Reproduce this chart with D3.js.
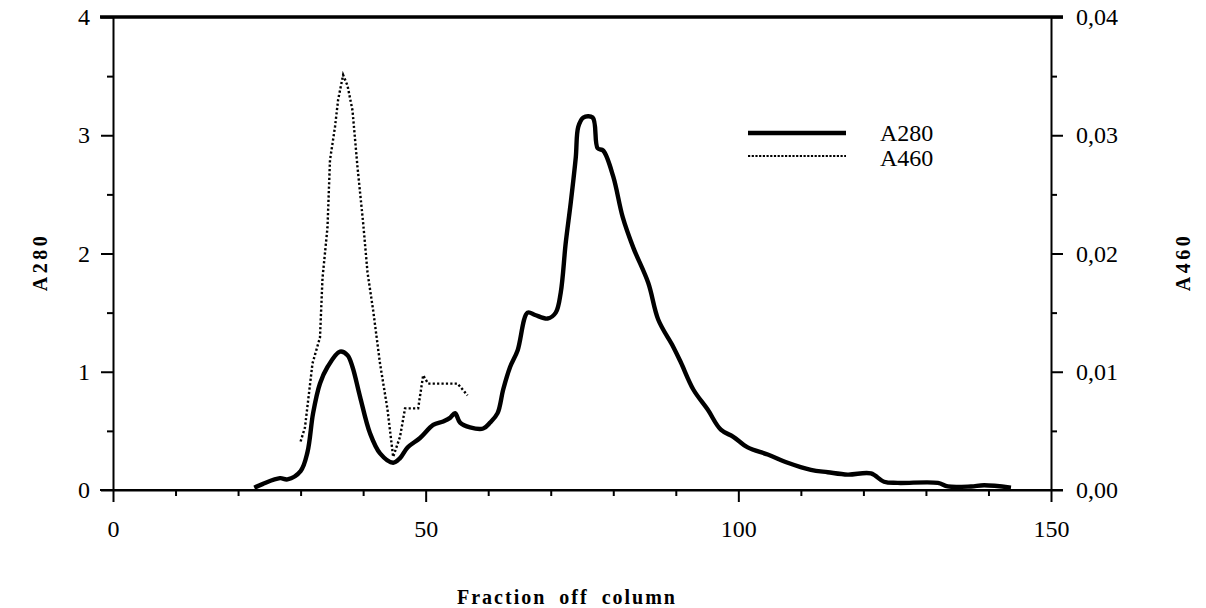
<!DOCTYPE html>
<html><head><meta charset="utf-8">
<script src="https://cdn.jsdelivr.net/npm/d3@7"></script>
<style>
html,body{margin:0;padding:0;background:#fff;}
svg{display:block;}
text{font-family:"Liberation Serif","Times New Roman",serif;fill:#000;}
</style></head>
<body><svg id="c" width="1206" height="608"></svg>
<script>
// A280 trace: [fraction, absorbance]
const a280Fraction = [22.6,23.9,26.7,27.9,30.0,31.1,32.0,33.1,34.3,36.3,37.5,38.3,39.5,41.1,42.7,44.8,45.9,47.1,49.1,51.2,52.8,53.9,54.7,55.5,57.1,59.2,60.3,61.5,62.4,63.5,64.7,66.3,67.5,69.5,70.8,71.6,72.4,73.2,74.0,74.4,75.2,76.7,77.5,78.4,80.0,81.5,83.2,85.6,87.2,89.6,90.8,92.8,95.1,97.2,99.2,101.5,104.7,107.9,111.6,114.3,117.5,121.2,123.3,125.5,131.9,133.5,137.2,139.3,143.6];
const a280Values   = [0.02,0.05,0.10,0.09,0.16,0.32,0.65,0.90,1.04,1.17,1.14,1.04,0.79,0.48,0.31,0.23,0.27,0.36,0.44,0.55,0.58,0.61,0.65,0.57,0.53,0.52,0.57,0.65,0.85,1.04,1.18,1.50,1.48,1.45,1.50,1.67,2.09,2.43,2.81,3.07,3.15,3.15,2.89,2.87,2.65,2.31,2.05,1.75,1.44,1.21,1.08,0.85,0.68,0.51,0.45,0.36,0.30,0.23,0.17,0.15,0.13,0.14,0.07,0.06,0.06,0.03,0.03,0.04,0.02];
// A460 trace
const a460Fraction = [30.0,30.7,31.9,33.1,33.5,34.3,34.7,35.5,36.0,36.8,37.5,38.3,39.1,40.0,40.7,41.6,42.7,43.9,44.8,45.9,46.7,48.8,49.6,50.4,55.1,56.7];
const a460Values   = [0.0041,0.0053,0.0107,0.0129,0.0179,0.0222,0.0279,0.0307,0.0330,0.0351,0.0342,0.0321,0.0273,0.0226,0.0184,0.0152,0.0107,0.0068,0.0028,0.0045,0.0069,0.0069,0.0097,0.0090,0.0090,0.0080];

const xTickLabels = [0,50,100,150];
const yLeftTicks = [0,1,2,3,4];
const yRightTicks = [0,0.01,0.02,0.03,0.04];
const seriesNames = ["A280","A460"];

const svg = d3.select("#c");
const L=113, R=1051, T=17, B=490;
const x = d3.scaleLinear().domain([0,150]).range([L,R]);
const yL = d3.scaleLinear().domain([0,4]).range([B,T]);
const yR = d3.scaleLinear().domain([0,0.04]).range([B,T]);

const fmtR = v => d3.format(".2f")(v).replace(".", ",");

// bottom axis
const gx = svg.append("g").attr("transform",`translate(0,${B})`)
  .call(d3.axisBottom(x).tickValues(d3.range(0,151,10)).tickFormat(d => xTickLabels.includes(d) ? d : "")
    .tickSizeInner(6).tickSizeOuter(0).tickPadding(24));
gx.selectAll(".tick line").attr("y2", d => d%50===0 ? 12 : 6);
// left axis
const gl = svg.append("g").attr("transform",`translate(${L},0)`)
  .call(d3.axisLeft(yL).tickValues(d3.range(0,4.01,0.5)).tickFormat(d => yLeftTicks.includes(d) ? d : "")
    .tickSizeOuter(0).tickPadding(17));
gl.selectAll(".tick line").attr("x2", d => Number.isInteger(d) ? -12 : -6);
// right axis
const gr = svg.append("g").attr("transform",`translate(${R},0)`)
  .call(d3.axisRight(yR).tickValues(d3.range(0,0.0401,0.005)).tickFormat(d => yRightTicks.some(t=>Math.abs(t-d)<1e-9) ? fmtR(d) : "")
    .tickSizeOuter(0).tickPadding(19));
gr.selectAll(".tick line").attr("x2", (d,i) => i%2===0 ? 12 : 6);

[gx,gl,gr].forEach(g=>{
  g.select(".domain").attr("stroke","#000").attr("stroke-width",2);
  g.selectAll(".tick line").attr("stroke","#000").attr("stroke-width",2);
  g.selectAll(".tick text").attr("font-size",24).attr("font-family","Liberation Serif");
});
// extend bottom axis line
svg.append("line").attr("x1",L-13).attr("x2",R+12).attr("y1",B).attr("y2",B).attr("stroke","#000").attr("stroke-width",2);
// top border (thick)
svg.append("line").attr("x1",L-13).attr("x2",R+12).attr("y1",T).attr("y2",T).attr("stroke","#000").attr("stroke-width",3.5);

// lines
const line280 = d3.line().x(d=>x(d[0])).y(d=>yL(d[1])).curve(d3.curveCatmullRom.alpha(0.5));
const line460 = d3.line().x(d=>x(d[0])).y(d=>yR(d[1])).curve(d3.curveLinear);
svg.append("path").datum(d3.zip(a460Fraction,a460Values)).attr("d",line460)
  .attr("fill","none").attr("stroke","#000").attr("stroke-width",2.4).attr("stroke-dasharray","2.2,2.2");
svg.append("path").datum(d3.zip(a280Fraction,a280Values)).attr("d",line280)
  .attr("fill","none").attr("stroke","#000").attr("stroke-width",4.4).attr("stroke-linejoin","round");

// legend
const leg = svg.append("g");
leg.append("line").attr("x1",748).attr("x2",846).attr("y1",133).attr("y2",133).attr("stroke","#000").attr("stroke-width",4.4);
leg.append("line").attr("x1",748).attr("x2",846).attr("y1",156).attr("y2",156).attr("stroke","#000").attr("stroke-width",2.2).attr("stroke-dasharray","2.2,1.5");
leg.append("text").attr("x",880).attr("y",133).attr("dy","0.35em").attr("font-size",24).text(seriesNames[0]);
leg.append("text").attr("x",880).attr("y",158).attr("dy","0.35em").attr("font-size",24).text(seriesNames[1]);

// titles
svg.append("text").attr("x",567).attr("y",604).attr("text-anchor","middle").attr("font-size",20)
  .attr("font-weight","bold").attr("letter-spacing","2px").attr("word-spacing","6px").text("Fraction off column");
svg.append("text").attr("transform","translate(47,262) rotate(-90)").attr("text-anchor","middle").attr("font-size",20)
  .attr("font-weight","bold").attr("letter-spacing","3.5px").text(seriesNames[0]);
svg.append("text").attr("transform","translate(1190,262) rotate(-90)").attr("text-anchor","middle").attr("font-size",20)
  .attr("font-weight","bold").attr("letter-spacing","3.5px").text(seriesNames[1]);
</script></body></html>
